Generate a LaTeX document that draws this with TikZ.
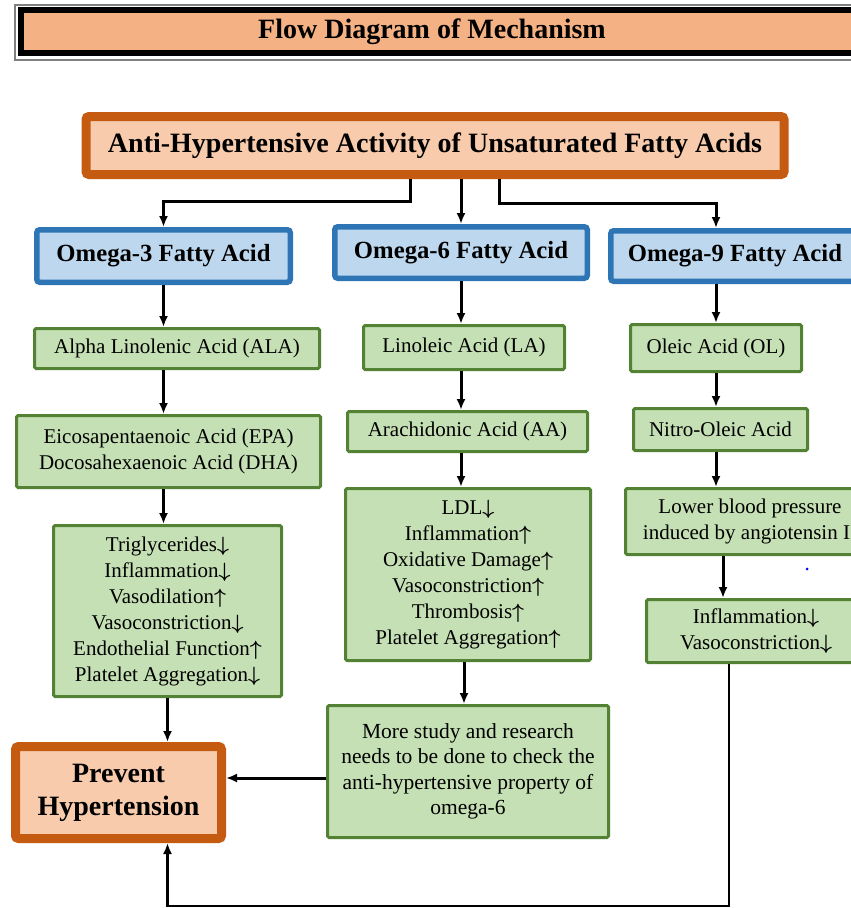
\documentclass[tikz,border=0pt]{standalone}
\usepackage{fontspec}
\setmainfont{Liberation Serif}
\usetikzlibrary{positioning, arrows.meta}

\definecolor{orangeline}{HTML}{C55A11}
\definecolor{peach}{HTML}{F8CBAD}
\definecolor{titlefill}{HTML}{F4B183}
\definecolor{blueline}{HTML}{2E75B6}
\definecolor{bluefill}{HTML}{BDD7EE}
\definecolor{greenline}{HTML}{548235}
\definecolor{greenfill}{HTML}{C5E0B4}

\begin{document}
\begin{tikzpicture}[x=1pt, y=-1pt,
        orangebox/.style={draw=orangeline, fill=peach, line width=9pt, rounded corners=3pt, inner sep=0pt, align=center},
        bluebox/.style={draw=blueline, fill=bluefill, line width=5.5pt, rounded corners=3pt, inner sep=0pt,
            font=\fontsize{24.7}{28}\selectfont\bfseries},
        greenbox/.style={draw=greenline, fill=greenfill, line width=3pt, rounded corners=1.5pt, inner sep=0pt, align=center,
            font=\fontsize{21}{26}\selectfont\boldmath},
        arr/.style={line width=3pt, -{Latex[length=11pt, width=9pt]}}]
                \useasboundingbox (0,0) rectangle (851,908);
                \clip (0,0) rectangle (851,908);
                \fill[white] (0,0) rectangle (851,908);

                \draw[gray, line width=1.2pt] (15,5) rectangle (900,60);
                \draw[black, fill=titlefill, line width=6pt] (21,10) rectangle (880,53);
                \node (title) at (432,32) {\fontsize{28}{32}\selectfont\bfseries Flow Diagram of Mechanism};

                \node[orangebox, minimum width=698pt, minimum height=58pt, font=\fontsize{28}{32}\selectfont\bfseries]
                    (top) at (435,145.5) {Anti-Hypertensive Activity of Unsaturated Fatty Acids};

                \node[bluebox, minimum width=253.5pt, minimum height=52.5pt] (o3) at (163.5,256) {Omega-3 Fatty Acid};
                \node[bluebox, minimum width=252.5pt, minimum height=51.5pt] (o6) at (461,252.5) {Omega-6 Fatty Acid};
                \node[bluebox, minimum width=248.5pt, minimum height=50.5pt] (o9) at (735,256) {Omega-9 Fatty Acid};

                \node[greenbox, minimum width=285pt, minimum height=40pt] (ala) at (177,348.5) {Alpha Linolenic Acid (ALA)};
                \node[greenbox, minimum width=304pt, minimum height=72pt] (epa) at (168.5,451.5)
                    {Eicosapentaenoic Acid (EPA)\\Docosahexaenoic Acid (DHA)};
                \node[greenbox, minimum width=228pt, minimum height=171pt] (o3eff) at (167.5,611)
                    {Triglycerides$\downarrow$\\Inflammation$\downarrow$\\Vasodilation$\uparrow$\\
                     Vasoconstriction$\downarrow$\\Endothelial Function$\uparrow$\\Platelet Aggregation$\downarrow$};

                \node[greenbox, minimum width=201pt, minimum height=44pt] (la) at (464,347.5) {Linoleic Acid (LA)};
                \node[greenbox, minimum width=240pt, minimum height=40pt] (aa) at (467.5,431.5) {Arachidonic Acid (AA)};
                \node[greenbox, minimum width=245pt, minimum height=172pt] (o6eff) at (468,574.5)
                    {LDL$\downarrow$\\Inflammation$\uparrow$\\Oxidative Damage$\uparrow$\\
                     Vasoconstriction$\uparrow$\\Thrombosis$\uparrow$\\Platelet Aggregation$\uparrow$};
                \node[greenbox, minimum width=281pt, minimum height=132pt, font=\fontsize{21.5}{25.5}\selectfont]
                    (more) at (468,771.5)
                    {More study and research\\needs to be done to check the\\anti-hypertensive property of\\omega-6};

                \node[greenbox, minimum width=171pt, minimum height=47pt] (ol) at (716,348) {Oleic Acid (OL)};
                \node[greenbox, minimum width=174pt, minimum height=42pt] (nitro) at (720.5,429.5) {Nitro-Oleic Acid};
                \node[greenbox, minimum width=249pt, minimum height=66pt] (lowbp) at (750,521.5)
                    {Lower blood pressure\\induced by angiotensin II};
                \node[greenbox, minimum width=219pt, minimum height=63pt] (o9eff) at (756,631)
                    {Inflammation$\downarrow$\\Vasoconstriction$\downarrow$};

                \node[orangebox, minimum width=206pt, minimum height=92pt, font=\fontsize{28}{33}\selectfont\bfseries]
                    (prevent) at (118.5,792.5) {Prevent\\Hypertension};

                \fill[blue] (807,569) circle (1.5);

                \draw[arr] ([xshift=-25pt]top.south) -- ++(0,22) -| (o3.north);
                \draw[arr] (o6.north |- top.south) -- (o6.north);
                \draw[arr] ([xshift=64pt]top.south) -- ++(0,24) -| (o9.north -| ol);

                \draw[arr] (o3.south) -- (o3.south |- ala.north);
                \draw[arr] (ala.south -| o3) -- (o3 |- epa.north);
                \draw[arr] (epa.south -| o3) -- (o3 |- o3eff.north);
                \draw[arr] (o3eff.south) -- (o3eff.south |- prevent.north);

                \draw[arr] (o6.south) -- (o6.south |- la.north);
                \draw[arr] (la.south -| o6) -- (o6 |- aa.north);
                \draw[arr] (aa.south -| o6) -- (o6 |- o6eff.north);
                \draw[arr] ([xshift=-4pt]o6eff.south -| more) -- ([xshift=-4pt]more.north);
                \draw[arr] ([yshift=-6.5pt]more.west) -- ([yshift=-6.5pt]more.west -| prevent.east);

                \draw[arr] (o9.south -| ol) -- (ol.north);
                \draw[arr] (ol.south) -- (ol.south |- nitro.north);
                \draw[arr] (nitro.south -| ol) -- (ol |- lowbp.north);
                \draw[arr] (lowbp.south -| 723,0) -- (o9eff.north -| 723,0);

                \coordinate (loopcorner) at (729,906);
                \draw[arr, line width=2.5pt] (o9eff.south -| loopcorner) -- (loopcorner) -| (o3eff.south |- prevent.south);
            \end{tikzpicture}
\end{document}
